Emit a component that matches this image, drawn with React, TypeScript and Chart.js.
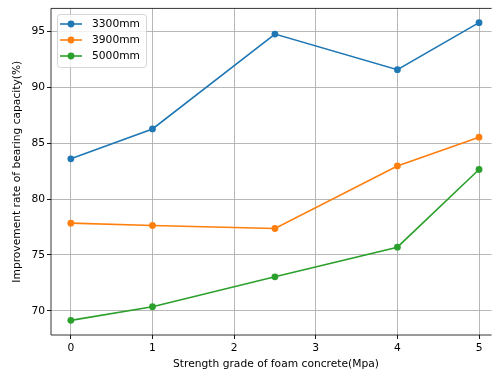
import React, { useEffect, useRef } from "react";
import { Chart, registerables } from "chart.js";

Chart.register(...registerables);

const strengthGrades = [0, 1, 2.5, 4, 5];
const series3300 = [83.6, 86.27, 94.76, 91.57, 95.78];
const series3900 = [77.84, 77.63, 77.36, 82.96, 85.53];
const series5000 = [69.14, 70.36, 73.04, 75.69, 82.64];
const seriesNames = ["3300mm", "3900mm", "5000mm"];
const seriesColors = ["#1f77b4", "#ff7f0e", "#2ca02c"];
const xTitle = "Strength grade of foam concrete(Mpa)";
const yTitle = "Improvement rate of bearing capacity(%)";

const FONT = "DejaVu Sans";
const FS = 10.7;

const framePlugin = {
  id: "frameAndLegend",
  afterDraw(chart: any) {
    const { ctx, chartArea } = chart;
    const { left, right, top, bottom } = chartArea;
    ctx.save();
    ctx.strokeStyle = "#000";
    ctx.lineWidth = 0.8;
    ctx.beginPath();
    ctx.moveTo(left, top);
    ctx.lineTo(right, top);
    ctx.moveTo(left, top);
    ctx.lineTo(left, bottom);
    ctx.lineTo(right, bottom);
    ctx.stroke();
    // x axis title, centred on the full (cropped) axes width
    ctx.font = `${FS}px '${FONT}'`;
    ctx.fillStyle = "#000";
    ctx.textAlign = "center";
    ctx.textBaseline = "middle";
    ctx.fillText(xTitle, 276, 364);
    // legend
    const bx = 57, by = 14, bw = 89, bh = 53;
    ctx.beginPath();
    (ctx as any).roundRect(bx + 0.5, by + 0.5, bw, bh, 3);
    ctx.fillStyle = "rgba(255,255,255,0.8)";
    ctx.fill();
    ctx.strokeStyle = "#cccccc";
    ctx.lineWidth = 0.8;
    ctx.stroke();
    ctx.textAlign = "left";
    seriesNames.forEach((name, i) => {
      const y = 24 + i * 16;
      ctx.strokeStyle = seriesColors[i];
      ctx.lineWidth = 1.6;
      ctx.beginPath();
      ctx.moveTo(60, y);
      ctx.lineTo(82, y);
      ctx.stroke();
      ctx.fillStyle = seriesColors[i];
      ctx.beginPath();
      ctx.arc(71, y, 3.4, 0, Math.PI * 2);
      ctx.fill();
      ctx.fillStyle = "#000";
      ctx.fillText(name, 92, y + 0.5);
    });
    ctx.restore();
  },
};

export default function App() {
  const ref = useRef<HTMLCanvasElement>(null);
  useEffect(() => {
    if (!ref.current) return;
    const allSeries = [series3300, series3900, series5000];
    const chart = new Chart(ref.current, {
      type: "line",
      data: {
        datasets: allSeries.map((s, i) => ({
          label: seriesNames[i],
          data: strengthGrades.map((x, j) => ({ x, y: s[j] })),
          borderColor: seriesColors[i],
          backgroundColor: seriesColors[i],
          borderWidth: 1.6,
          pointRadius: 3.4,
          pointBorderWidth: 0,
          pointHoverRadius: 3.4,
          fill: false,
          tension: 0,
        })),
      },
      options: {
        responsive: false,
        animation: false,
        events: [],
        layout: { padding: { left: 0, right: 0, top: 8, bottom: 0 } },
        plugins: { legend: { display: false }, tooltip: { enabled: false } },
        scales: {
          x: {
            type: "linear",
            min: -0.243,
            max: 5.154,
            afterFit: (s: any) => { s.height = 40; },
            border: { display: false },
            grid: { color: "#b0b0b0", lineWidth: 0.9, tickColor: "#000", tickLength: 4, drawTicks: true },
            ticks: { stepSize: 1, includeBounds: false, color: "#000", padding: 3, font: { family: FONT, size: FS }, maxRotation: 0 },
            title: { display: false, text: xTitle },
          },
          y: {
            type: "linear",
            min: 67.83,
            max: 97.056,
            afterFit: (s: any) => { s.width = 51; },
            border: { display: false },
            grid: { color: "#b0b0b0", lineWidth: 0.9, tickColor: "#000", tickLength: 4, drawTicks: true },
            ticks: { stepSize: 5, includeBounds: false, color: "#000", padding: 2, font: { family: FONT, size: FS } },
            title: { display: true, text: yTitle, color: "#000", font: { family: FONT, size: FS }, padding: { top: 10.6, bottom: 0 } },
          },
        },
      } as any,
      plugins: [framePlugin],
    });
    return () => chart.destroy();
  }, []);
  return (
    <div style={{ position: "fixed", left: 0, top: 0, width: 495, height: 375, background: "#fff", overflow: "hidden" }}>
      <canvas ref={ref} width={495} height={375} style={{ display: "block" }} />
    </div>
  );
}
